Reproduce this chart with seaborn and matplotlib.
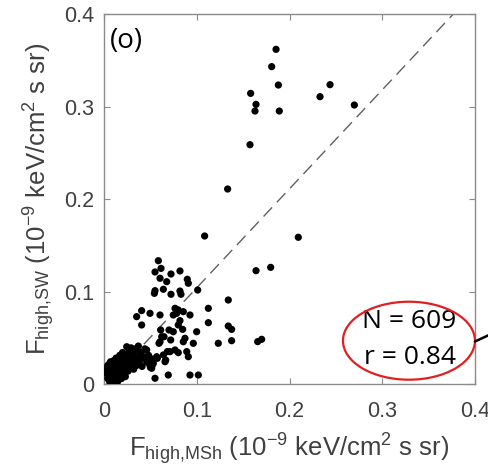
import numpy as np
import pandas as pd
import matplotlib
matplotlib.use('Agg')
import matplotlib.pyplot as plt
import seaborn as sns
from matplotlib.patches import Ellipse
from matplotlib.lines import Line2D

# Flux values (units of 1e-9 keV/cm^2 s sr)
# outliers / upper part
x_upper = [0.1855, 0.1808, 0.1880, 0.1581, 0.1639, 0.1628, 0.1890, 0.2329, 0.2437, 0.2699,
           0.1574, 0.1333, 0.1085, 0.2095, 0.1639, 0.1797, 0.1657, 0.1700]
y_upper = [0.3618, 0.3431, 0.3232, 0.3142, 0.3023, 0.2951, 0.2951, 0.3106, 0.3236, 0.3016,
           0.2587, 0.2108, 0.1600, 0.1586, 0.1225, 0.1261, 0.0458, 0.0483]

# middle group
x_mid = [0.0586, 0.0550, 0.0615, 0.0722, 0.0819, 0.0604, 0.0676, 0.0898, 0.0909, 0.0550,
         0.0640, 0.0543, 0.0722, 0.0819, 0.0830, 0.1010, 0.0406, 0.0352, 0.0406,
         0.0766, 0.0801, 0.0747, 0.0784, 0.0855, 0.0927, 0.1125, 0.1340, 0.1125, 0.1340,
         0.1376, 0.0819, 0.0801, 0.0604, 0.0496, 0.0747, 0.0848, 0.0999, 0.0622, 0.0604,
         0.0873, 0.0855, 0.0963, 0.1232, 0.1376, 0.0712, 0.0766, 0.0801, 0.0892, 0.0909,
         0.0640, 0.0568, 0.0658, 0.0532, 0.0514, 0.0550, 0.0693, 0.0927, 0.1017,
         0.0611, 0.0647, 0.0593, 0.0701, 0.0719, 0.0683, 0.0575, 0.0665, 0.0521]
y_mid = [0.1333, 0.1211, 0.1250, 0.1189, 0.1222, 0.1143, 0.1106, 0.1132, 0.1089, 0.1009,
         0.1024, 0.0980, 0.0970, 0.1005, 0.0970, 0.1016, 0.0793, 0.0728, 0.0638,
         0.0818, 0.0800, 0.0746, 0.0764, 0.0782, 0.0746, 0.0818, 0.0908, 0.0663, 0.0627,
         0.0591, 0.0685, 0.0638, 0.0746, 0.0764, 0.0565, 0.0591, 0.0565, 0.0511, 0.0457,
         0.0494, 0.0457, 0.0440, 0.0440, 0.0468, 0.0350, 0.0368, 0.0339, 0.0350, 0.0295,
         0.0314, 0.0295, 0.0241, 0.0224, 0.0170, 0.0062, 0.0097, 0.0097, 0.0097,
         0.0584, 0.0511, 0.0440, 0.0584, 0.0476, 0.0350, 0.0278, 0.0259, 0.0205]

# dense cluster near the origin
x_low = [0.004, 0.005, 0.005, 0.006, 0.006, 0.007, 0.007, 0.008, 0.008, 0.009,
         0.009, 0.010, 0.010, 0.011, 0.011, 0.012, 0.012, 0.013, 0.013, 0.014,
         0.014, 0.015, 0.015, 0.016, 0.016, 0.017, 0.017, 0.018, 0.018, 0.019,
         0.019, 0.020, 0.021, 0.021, 0.022, 0.022, 0.023, 0.024, 0.024, 0.025,
         0.026, 0.026, 0.027, 0.028, 0.028, 0.029, 0.030, 0.031, 0.032, 0.033,
         0.033, 0.035, 0.036, 0.037, 0.038, 0.040, 0.041, 0.043, 0.044, 0.046,
         0.048, 0.050, 0.052, 0.010, 0.013, 0.017, 0.020, 0.003, 0.006, 0.012,
         0.0478, 0.0424, 0.0460, 0.0352, 0.0388, 0.0316, 0.0298, 0.0245,
         0.003, 0.004, 0.008, 0.011, 0.015, 0.019, 0.023, 0.007, 0.014, 0.020]
y_low = [0.006, 0.010, 0.014, 0.018, 0.003, 0.008, 0.012, 0.016, 0.020, 0.005,
         0.010, 0.014, 0.018, 0.007, 0.022, 0.011, 0.016, 0.004, 0.019, 0.009,
         0.013, 0.017, 0.023, 0.006, 0.011, 0.015, 0.020, 0.009, 0.026, 0.013,
         0.018, 0.022, 0.010, 0.015, 0.019, 0.028, 0.012, 0.017, 0.024, 0.031,
         0.014, 0.021, 0.035, 0.018, 0.026, 0.039, 0.022, 0.030, 0.016, 0.025,
         0.036, 0.020, 0.029, 0.041, 0.024, 0.034, 0.019, 0.028, 0.038, 0.024,
         0.031, 0.018, 0.027, 0.025, 0.028, 0.031, 0.034, 0.011, 0.022, 0.002,
         0.0224, 0.0295, 0.0368, 0.0386, 0.0332, 0.0295, 0.0386, 0.0403,
         0.016, 0.020, 0.003, 0.004, 0.003, 0.006, 0.008, 0.024, 0.026, 0.030]

# reference line y = slope * x + intercept
fit_slope = 1.07
fit_intercept = -0.003
n_points = 609
r_value = 0.84

df = pd.DataFrame({
    'msh': x_upper + x_mid + x_low,
    'sw': y_upper + y_mid + y_low,
})

sns.set_style("ticks")
plt.rcParams['font.family'] = ['Liberation Sans', 'DejaVu Sans']
plt.rcParams['mathtext.fontset'] = 'custom'
plt.rcParams['mathtext.rm'] = 'Liberation Sans'
plt.rcParams['mathtext.it'] = 'Liberation Sans:italic'

gray_txt = '#404040'
gray_axis = '#8a8a8a'

fig = plt.figure(figsize=(4.89, 4.73), dpi=100)
ax = fig.add_axes([104 / 489, 1 - 384 / 473, 371 / 489, 370 / 473])

sns.scatterplot(data=df, x='msh', y='sw', ax=ax, color='black', s=27,
                edgecolor='none', linewidth=0, zorder=3)

line_x = np.array([0.0, 0.4])
ax.plot(line_x, fit_slope * line_x + fit_intercept, color='#606060', lw=1.0,
        dashes=(9, 5), zorder=2)

ax.set_xlim(0, 0.4)
ax.set_ylim(0, 0.4)
ticks = [0, 0.1, 0.2, 0.3, 0.4]
tick_labels = ['0', '0.1', '0.2', '0.3', '0.4']
ax.set_xticks(ticks)
ax.set_xticklabels(tick_labels)
ax.set_yticks(ticks)
ax.set_yticklabels(tick_labels)
ax.tick_params(direction='in', length=4, width=0.8, color=gray_axis,
               labelsize=15.5, labelcolor=gray_txt, top=True, right=True, pad=7)
ax.tick_params(axis='x', pad=12)
for sp in ax.spines.values():
    sp.set_color(gray_axis)
    sp.set_linewidth(1.0)

ax.set_xlabel(r'F$_{\mathregular{high{,}MSh}}$ (10$^{\mathregular{-9}}$ keV/cm$^{\mathregular{2}}$ s sr)',
              fontsize=18.5, color=gray_txt, labelpad=7)
ax.set_ylabel(r'F$_{\mathregular{high{,}SW}}$ (10$^{\mathregular{-9}}$ keV/cm$^{\mathregular{2}}$ s sr)',
              fontsize=18.5, color=gray_txt, labelpad=5)

ax.text(0.006, 0.386, '(o)', fontsize=20, family=['Open Sans', 'DejaVu Sans'],
        color='black', ha='left', va='top')

ax.text(0.3288, 0.0674, f'N = {n_points}', fontsize=19, family=['Open Sans', 'DejaVu Sans'],
        color='black', ha='center', va='center', zorder=5)
ax.text(0.3300, 0.0289, f'r = {r_value:.2f}', fontsize=19, family=['Open Sans', 'DejaVu Sans'],
        color='black', ha='center', va='center', zorder=5)
ax.add_patch(Ellipse((0.3288, 0.0468), 0.1423, 0.0843, fill=False,
                     edgecolor='#e02020', lw=1.6, zorder=6, clip_on=False))

fig.add_artist(Line2D([475 / 489, 1.0], [1 - 341.5 / 473, 1 - 335 / 473],
                      color='black', lw=1.8, transform=fig.transFigure))

fig.savefig('out.png', dpi=100)
